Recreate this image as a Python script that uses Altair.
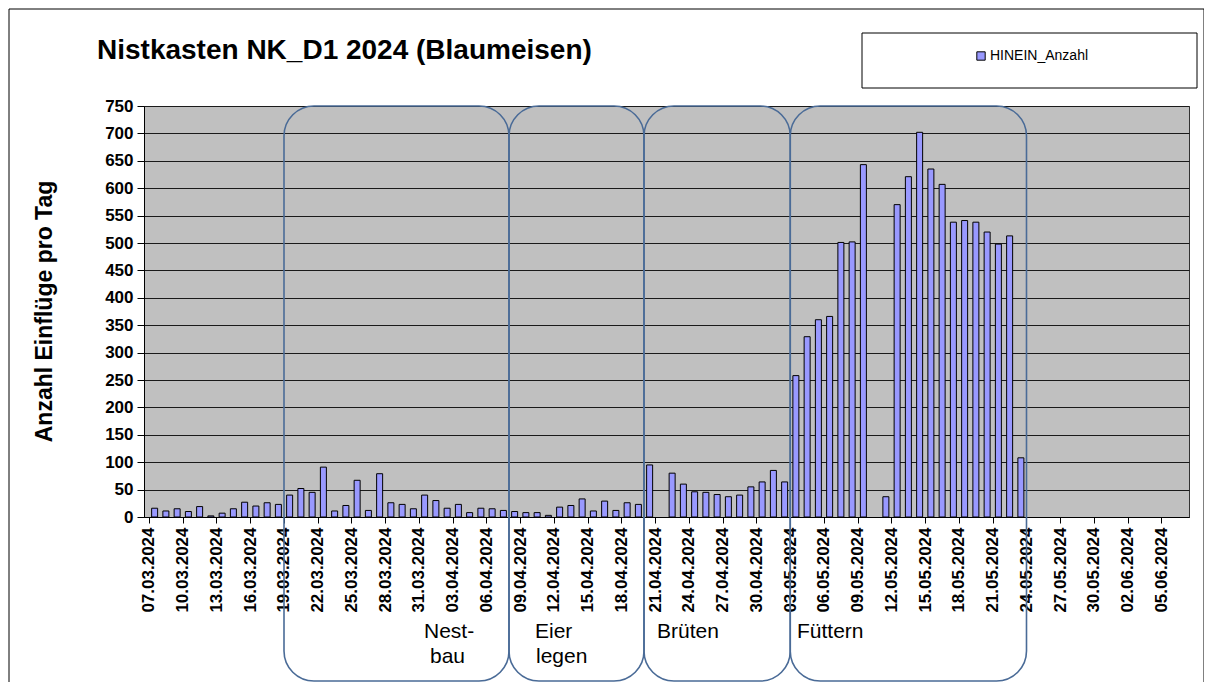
import json
import altair as alt
import pandas as pd

# ---------------- data ----------------
dates = [d.strftime("%d.%m.%Y") for d in pd.date_range("2024-03-07", "2024-06-06", freq="D")]

hinein_anzahl = [
    16, 11, 15, 10, 19, 2, 7, 15, 27, 20, 26, 23,          # 07.03 - 18.03
    40, 52, 45, 91, 11, 21, 67, 12, 79, 26, 23, 15,        # 19.03 - 30.03
    40, 30, 16, 23, 8, 16, 15, 12,                          # 31.03 - 07.04
    10, 8, 8, 3, 18, 21, 33, 11, 29, 12, 26, 23,            # 08.04 - 19.04
    95, None, 80, 60, 46, 45, 41, 37, 40, 55, 64, 85, 64,   # 20.04 - 02.05
    258, 329, 360, 366, 501, 502, 643, None, 37, 570, 621,  # 03.05 - 13.05
    702, 635, 607, 538, 541, 538, 520, 498, 513, 108,       # 14.05 - 23.05
]
hinein_anzahl = hinein_anzahl + [None] * (len(dates) - len(hinein_anzahl))

tick_labels = dates[::3]
y_ticks = list(range(0, 751, 50))

phase_start = ["19.03.2024", "08.04.2024", "20.04.2024", "03.05.2024"]
phase_end = ["07.04.2024", "19.04.2024", "02.05.2024", "23.05.2024"]
phase_names = ["Nestbau", "Eier legen", "Brüten", "Füttern"]

series_name = "HINEIN_Anzahl"
title_text = "Nistkasten  NK_D1 2024 (Blaumeisen)"
y_title = "Anzahl Einflüge pro Tag"

# ---------------- tables ----------------
df = pd.DataFrame({
    "date": dates,
    "pos": [i + 0.5 for i in range(len(dates))],
    "value": hinein_anzahl,
    "series": series_name,
})
df = df[df["value"].notna()]

phases = pd.DataFrame({
    "phase": phase_names,
    "start": [dates.index(s) for s in phase_start],
    "end": [dates.index(e) + 1 for e in phase_end],
})
one = pd.DataFrame({"k": [0]})

FONT = "Liberation Sans"
n = len(dates)

x_axis = alt.Axis(
    values=[i + 0.5 for i in range(0, n, 3)],
    labelExpr=json.dumps(tick_labels) + "[round((datum.value - 0.5) / 3)]",
    labelAngle=-90, labelFont=FONT, labelFontSize=17, labelFontWeight="bold",
    labelColor="black", labelPadding=4, tickColor="black", tickSize=6,
    tickOffset=-5.68, domainColor="black", grid=False, title=None,
)
y_axis = alt.Axis(
    values=y_ticks, labelFont=FONT, labelFontSize=17, labelFontWeight="bold",
    labelColor="black", labelPadding=4, tickColor="black", tickSize=7,
    domainColor="black", gridColor="#1a1a1a", gridWidth=1, grid=True,
    title=y_title, titleFont=FONT, titleFontSize=23, titleFontWeight="bold",
    titleColor="black", titleX=-100, titleY=205, titleAngle=270,
    titleAlign="center", titleBaseline="middle",
)

x_scale = alt.Scale(domain=[0, n], nice=False, zero=False)

frame = alt.Chart(one).mark_rect(fillOpacity=0, stroke="black", strokeWidth=1).encode(
    x=alt.value(-135), x2=alt.value(1060), y=alt.value(-97), y2=alt.value(600)
)
legend_box = alt.Chart(one).mark_rect(fill="white", stroke="black", strokeWidth=1).encode(
    x=alt.value(718), x2=alt.value(1053), y=alt.value(-73), y2=alt.value(-18)
)
title_mark = alt.Chart(one).mark_text(
    text=title_text, align="left", baseline="alphabetic", font=FONT,
    fontSize=28, fontWeight="bold", color="black"
).encode(x=alt.value(-47), y=alt.value(-47))

bars = alt.Chart(df).mark_bar(size=6, stroke="black", strokeWidth=1, opacity=1).encode(
    x=alt.X("pos:Q", scale=x_scale, axis=x_axis),
    y=alt.Y("value:Q", scale=alt.Scale(domain=[0, 750], nice=False), axis=y_axis),
    color=alt.Color(
        "series:N",
        scale=alt.Scale(range=["#9999FF"]),
        legend=alt.Legend(
            orient="none", legendX=830, legendY=-57, title=None,
            symbolType="square", symbolSize=70, symbolStrokeColor="black",
            symbolStrokeWidth=1, labelFont=FONT, labelFontSize=14,
            labelColor="black", labelOffset=2,
        ),
    ),
    tooltip=["date:N", "value:Q"],
)

boxes = alt.Chart(phases).mark_rect(
    fillOpacity=0, stroke="#4A6B97", strokeWidth=1.6, cornerRadius=30
).encode(
    x=alt.X("start:Q", scale=x_scale, axis=x_axis),
    x2="end:Q",
    y=alt.value(0),
    y2=alt.value(575),
)

label_specs = [
    ("Nest-", 280, 526), ("bau", 286, 551),
    ("Eier", 391, 526), ("legen", 392, 551),
    ("Brüten", 513, 526), ("Füttern", 653, 526),
]
labels = [
    alt.Chart(one).mark_text(
        text=t, align="left", baseline="middle", font=FONT, fontSize=21, color="black"
    ).encode(x=alt.value(px), y=alt.value(py))
    for t, px, py in label_specs
]

chart = alt.layer(frame, legend_box, title_mark, bars, boxes, *labels).properties(
    width=1045,
    height=411,
    background="white",
    autosize=alt.AutoSizeParams(type="none"),
    padding={"left": 136, "top": 98, "right": 15, "bottom": 165},
).configure_view(
    fill="#C0C0C0", stroke="#333333"
)

chart.save("out.html", embed_options={"renderer": "svg", "actions": False})
